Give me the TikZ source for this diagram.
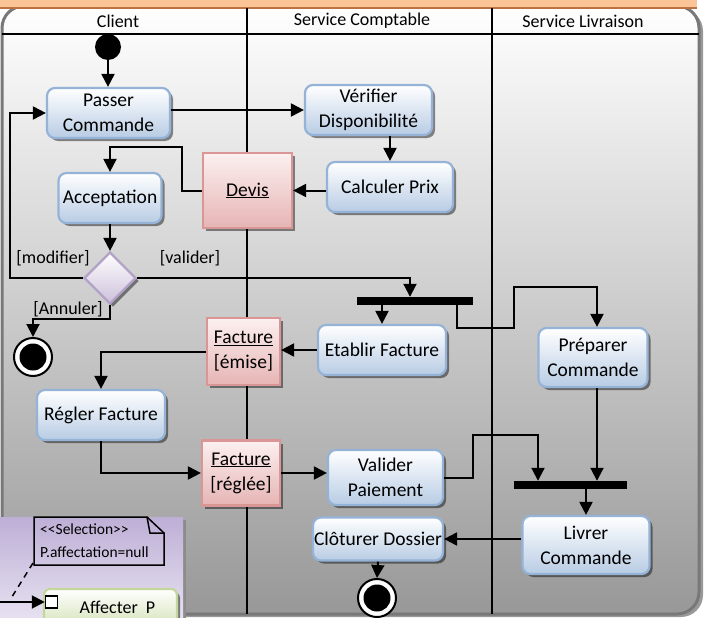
\documentclass[tikz,border=0pt]{standalone}
\usepackage{fontspec}
\setmainfont{Carlito}
\usetikzlibrary{arrows.meta,shapes.geometric,shadows}

\definecolor{actEdge}{RGB}{149,179,215}
\definecolor{actBot}{RGB}{184,204,228}
\definecolor{objEdge}{RGB}{217,150,148}
\definecolor{objTop}{RGB}{252,240,240}
\definecolor{objBot}{RGB}{230,180,180}
\definecolor{decEdge}{RGB}{179,162,199}
\definecolor{decBot}{RGB}{204,192,218}
\definecolor{frameBot}{RGB}{152,152,152}
\definecolor{frameEdge}{RGB}{120,120,120}
\definecolor{bandFill}{RGB}{250,196,150}
\definecolor{bandEdge}{RGB}{185,115,65}
\definecolor{panelTop}{RGB}{190,175,214}
\definecolor{panelBot}{RGB}{230,225,240}
\definecolor{greenEdge}{RGB}{195,214,155}
\definecolor{greenBot}{RGB}{214,228,188}

\newcommand\dgfont{\fontsize{18}{25}\selectfont}
\newcommand\boxfont{\fontsize{19.5}{25}\selectfont}
\newcommand\notefont{\fontsize{15.5}{23}\selectfont}

\tikzset{
  flow/.style={line width=2pt, -{Triangle[length=13pt,width=13pt]}},
  shade3/.style={drop shadow={shadow xshift=3pt, shadow yshift=-3pt, fill=black, opacity=0.45}},
  act/.style={rounded corners=8pt, draw=actEdge, line width=2.2pt, top color=white,
    bottom color=actBot, shade3, align=center, font=\boxfont, inner sep=0pt},
  obj/.style={draw=objEdge, line width=2.2pt, top color=objTop, bottom color=objBot,
    shade3, align=center, font=\boxfont, inner sep=0pt},
  decision/.style={diamond, aspect=1, draw=decEdge, line width=2.2pt, top color=white,
    bottom color=decBot, shade3, minimum width=52pt, minimum height=52pt, inner sep=0pt},
  syncbar/.style={fill=black, inner sep=0pt, minimum height=8pt},
  startnode/.style={circle, fill=black, minimum size=26pt, inner sep=0pt},
  endnode/.style={circle, draw=black, line width=2pt, fill=white, minimum size=38pt,
    inner sep=0pt, path picture={\fill[black] (path picture bounding box.center) circle (13.5pt);}},
  guard/.style={font=\dgfont, inner sep=0pt},
  hdr/.style={font=\dgfont, inner sep=0pt},
}

\begin{document}
\begin{tikzpicture}[x=1pt,y=-1pt]
\useasboundingbox (0,0) rectangle (709,618);

% swimlane frame
\fill[black!40, rounded corners=22pt] (5,9) rectangle (703,617);
\shade[top color=white, bottom color=frameBot, rounded corners=22pt] (2,6) rectangle (699,614);
\draw[frameEdge, line width=3pt, rounded corners=22pt] (2,6) rectangle (699,614);

% title band
\fill[bandFill] (0,0) rectangle (697,8);
\draw[bandEdge, line width=1.2pt] (0,8) -- (697,8);

% header row and lanes
\draw[line width=1.5pt] (2,34) -- (699,34);
\draw[line width=1.5pt] (247,8) -- (247,614);
\draw[line width=1.5pt] (492,8) -- (492,614);
\node[hdr] (hClient) at (118,21) {Client};
\node[hdr] (hCompta) at (362,21) {Service Comptable};
\node[hdr] (hLivr) at (583,21) {Service Livraison};

% activities and objects
\node[startnode] (init) at (108,47) {};
\node[act, minimum width=123pt, minimum height=50pt] (passer) at (108.5,113) {Passer\\Commande};
\node[act, minimum width=127pt, minimum height=50pt] (verif) at (368.5,110) {Vérifier\\Disponibilité};
\node[act, minimum width=126pt, minimum height=50pt] (calcul) at (390,187) {Calculer Prix};
\node[obj, minimum width=89pt, minimum height=75pt] (devis) at (247.5,190.5) {\underline{Devis}};
\node[act, minimum width=103pt, minimum height=50pt] (accept) at (110,198) {Acceptation};
\node[decision] (dec) at (110,278) {};
\node[guard] (gMod) at (53,258) {[modifier]};
\node[guard] (gVal) at (190,258) {[valider]};
\node[guard] (gAnn) at (68,309) {[Annuler]};
\node[endnode] (fin1) at (33,357) {};
\node[syncbar, minimum width=116pt] (bar1) at (415,301) {};
\node[act, minimum width=128pt, minimum height=50pt] (etab) at (382,350) {Etablir Facture};
\node[obj, minimum width=73pt, minimum height=67pt] (factE) at (243.5,351.5) {\underline{Facture}\\{[émise]}};
\node[act, minimum width=128pt, minimum height=50pt] (regl) at (101,415) {Régler Facture};
\node[obj, minimum width=78pt, minimum height=65pt] (factR) at (241,473) {\underline{Facture}\\{[réglée]}};
\node[act, minimum width=115pt, minimum height=55pt] (valid) at (385.5,477.5) {Valider\\Paiement};
\node[act, minimum width=109pt, minimum height=59pt] (prep) at (593,357.5) {Préparer\\Commande};
\node[syncbar, minimum width=113pt] (bar2) at (570.5,485) {};
\node[act, minimum width=127pt, minimum height=58pt] (livr) at (586,545) {Livrer\\Commande};
\node[act, minimum width=130pt, minimum height=43pt] (clot) at (378,539) {Clôturer Dossier};
\node[endnode] (fin2) at (377,598) {};

% bends of the control flows
\coordinate (d1) at (182,147);
\coordinate (loopL) at (10,200);
\coordinate (fk) at (410,278);
\coordinate (ann) at (33,319);
\coordinate (p1) at (457,328);
\coordinate (p2) at (514,287);
\coordinate (p3) at (597,287);
\coordinate (v1) at (473,435);
\coordinate (v2) at (538,435);

% control flows
\draw[flow] (init.south) -- (init.south |- passer.north);
\draw[flow] (passer.east |- verif.west) -- (verif.west);
\draw[flow] (verif.south -| calcul.north) -- (calcul.north);
\draw[flow] (calcul.west |- devis.east) -- (devis.east);
\draw[flow] (devis.west) -| (d1) -| (accept.north);
\draw[flow] (accept.south) -- (dec.north);
\draw[flow] (dec.west) -| (loopL) |- (passer.west);
\draw[flow] (dec.east) -- (fk) -- (fk |- bar1.north);
\draw[flow] (dec.south) |- (ann) -- (fin1.north);
\draw[flow] (bar1.south -| etab.north) -- (etab.north);
\draw[flow] (bar1.south -| p1) -- (p1) -| (p2) -- (p3) -- (p3 |- prep.north);
\draw[flow] (etab.west) -- (etab.west -| factE.east);
\draw[flow] (factE.west) -| (regl.north);
\draw[flow] (regl.south) |- (factR.west);
\draw[flow] (factR.east) -- (factR.east -| valid.west);
\draw[flow] (valid.east) -| (v1) -- (v2) -- (v2 |- bar2.north);
\draw[flow] (p3 |- prep.south) -- (p3 |- bar2.north);
\draw[flow] (bar2.south -| livr.north) -- (livr.north);
\draw[flow] (livr.west |- clot.east) -- (clot.east);
\draw[flow] (clot.south) -- (fin2.north);

% selection panel at the lower left
\fill[black!45] (3,520) rectangle (186,618);
\shade[top color=panelTop, bottom color=panelBot] (0,517) rectangle (183,618);
\draw[line width=1.5pt] (34,517) -- (147,517) -- (164,533) -- (164,565) -- (34,565) -- cycle;
\draw[line width=1.5pt] (147,517) -- (150,533) -- (164,533);
\node[font=\notefont, anchor=west, inner sep=0pt] (noteA) at (40,529) {<{}<Selection>{}>};
\node[font=\notefont, anchor=west, inner sep=0pt] (noteB) at (40,552) {P.affectation=null};
\coordinate (noteFoot) at (33,563);
\coordinate (dashEnd) at (10,600);
\draw[line width=1.5pt, dashed, dash pattern=on 6pt off 5pt] (noteFoot) -- (dashEnd);
\node[rounded corners=6pt, draw=greenEdge, line width=2.2pt, top color=white, bottom color=greenBot,
  shade3, minimum width=133pt, minimum height=36pt, font=\dgfont, inner sep=0pt] (affect) at (110.5,607) {\hspace{14pt}Affecter\ \ P};
\node[draw=black, line width=1.5pt, fill=white, minimum size=12pt, inner sep=0pt] (pin) at (51.5,602) {};
\coordinate (pinIn) at (0,602);
\draw[flow] (pinIn) -- (pin.west);
\end{tikzpicture}
\end{document}
